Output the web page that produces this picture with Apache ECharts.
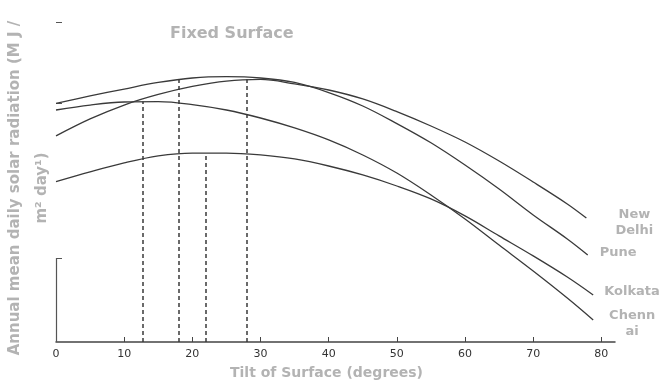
<!DOCTYPE html>
<html>
<head>
<meta charset="utf-8">
<script src="https://cdn.jsdelivr.net/npm/echarts@6/dist/echarts.min.js"></script>
<style>
  html, body { margin: 0; padding: 0; background: #fff; }
  #fixedSurface { width: 664px; height: 384px; }
</style>
</head>
<body>
<div id="fixedSurface"></div>
<script>
// tilt of surface (degrees); each curve stops at its own last tilt
var tilt = [0, 5, 10, 15, 20, 25, 30, 35, 40, 45, 50, 55, 60, 65, 70, 75]
var endTilt = { newDelhi: 77.8, pune: 78, kolkata: 78.8, chennai: 78.8 }

// annual mean daily radiation (one value per tilt, then the end point)
var newDelhi = [12.88, 13.94, 14.81, 15.47, 15.97, 16.31, 16.41, 16.13, 15.75, 15.19, 14.4, 13.5, 12.5, 11.31, 10.0, 8.63, 7.75]
var pune = [14.92, 15.38, 15.81, 16.22, 16.5, 16.58, 16.5, 16.22, 15.59, 14.75, 13.65, 12.45, 11.06, 9.56, 7.94, 6.44, 5.44]
var kolkata = [10.02, 10.63, 11.19, 11.63, 11.81, 11.81, 11.69, 11.44, 11.0, 10.44, 9.75, 8.94, 7.88, 6.63, 5.38, 4.06, 2.94]
var chennai = [14.5, 14.81, 15.0, 15.02, 14.84, 14.5, 14.0, 13.38, 12.63, 11.69, 10.56, 9.19, 7.69, 6.06, 4.44, 2.75, 1.38]

// optimum tilt for each city and the curve value there (dashed drop lines)
var optimumTilt = { newDelhi: 28, pune: 18, kolkata: 22, chennai: 12.7 }
var optimumValue = { newDelhi: 16.42, pune: 16.42, kolkata: 11.82, chennai: 15.03 }

var xTicks = [0, 10, 20, 30, 40, 50, 60, 70, 80]
var yTicks = [5.25, 14.94, 20]

var grey = '#b3b3b3'
var ink = '#3a3a3a'
var labelFont = { color: grey, fontWeight: 'bold', fontSize: 13, fontFamily: 'DejaVu Sans', lineHeight: 16 }

function pairs(key, values) {
  return values.map(function(v, i) {
    return [i < tilt.length ? tilt[i] : endTilt[key], v]
  })
}

function dropLine(key) {
  return {
    silent: true,
    symbol: ['none', 'none'],
    label: { show: false },
    lineStyle: { color: ink, type: [4, 3], width: 1.5 },
    data: [[{ coord: [optimumTilt[key], 0] }, { coord: [optimumTilt[key], optimumValue[key]] }]]
  }
}

function city(name, key, values, endLabel) {
  return {
    name: name,
    type: 'line',
    data: pairs(key, values),
    smooth: 0.35,
    showSymbol: false,
    lineStyle: { color: ink, width: 1.3 },
    endLabel: Object.assign({ show: true, formatter: endLabel.text }, labelFont, endLabel.pos),
    markLine: dropLine(key)
  }
}

var myChart = echarts.init(document.getElementById('fixedSurface'))

var series = [
  city('New Delhi', 'newDelhi', newDelhi, { text: 'New\nDelhi', pos: { align: 'center', distance: 5, offset: [43, 5] } }),
  city('Pune', 'pune', pune, { text: 'Pune', pos: { align: 'left', distance: 12, offset: [0, -2] } }),
  city('Kolkata', 'kolkata', kolkata, { text: 'Kolkata', pos: { align: 'left', distance: 11, offset: [0, -3] } }),
  city('Chennai', 'chennai', chennai, { text: 'Chenn\nai', pos: { align: 'center', distance: 5, offset: [34, 4] } })
]

// the scan only shows the lower part of the vertical axis
series[0].markLine.data.push([
  { coord: [0, 0], lineStyle: { type: 'solid', width: 1.2, color: '#555' } },
  { coord: [0, yTicks[0]] }
])

myChart.setOption({
  animation: false,
  title: {
    text: 'Fixed Surface',
    left: 165,
    top: 21,
    textStyle: { color: grey, fontWeight: 'bold', fontSize: 16, fontFamily: 'DejaVu Sans' }
  },
  grid: { left: 56, right: 49, top: 22, bottom: 42, outerBoundsMode: 'none', containLabel: false },
  xAxis: {
    type: 'value',
    min: 0,
    max: 82,
    interval: 10,
    name: 'Tilt of Surface (degrees)',
    nameLocation: 'middle',
    nameGap: 24,
    nameTextStyle: { color: grey, fontWeight: 'bold', fontSize: 14, fontFamily: 'DejaVu Sans', padding: [0, 18, 0, 0] },
    axisLine: { lineStyle: { color: '#444', width: 1.5 } },
    axisTick: { inside: true, length: 5, lineStyle: { color: '#444' } },
    axisLabel: {
      color: '#333',
      fontSize: 11,
      margin: 7,
      fontFamily: 'DejaVu Sans',
      showMaxLabel: false,
      formatter: function(v) { return xTicks.indexOf(v) >= 0 ? String(v) : '' }
    },
    splitLine: { show: false }
  },
  yAxis: {
    type: 'value',
    min: 0,
    max: 20,
    name: 'Annual mean daily solar radiation (M J /\nm² day¹)',
    nameLocation: 'middle',
    nameRotate: 90,
    nameGap: 0,
    nameTextStyle: {
      color: grey, fontWeight: 'bold', fontSize: 15, fontFamily: 'DejaVu Sans', lineHeight: 27,
      padding: [0, 12, 0, 0]
    },
    axisLine: { show: false },
    axisTick: { show: true, inside: true, length: 6, customValues: yTicks, lineStyle: { color: '#555' } },
    axisLabel: { show: false },
    splitLine: { show: false }
  },
  series: series
})
</script>
</body>
</html>
